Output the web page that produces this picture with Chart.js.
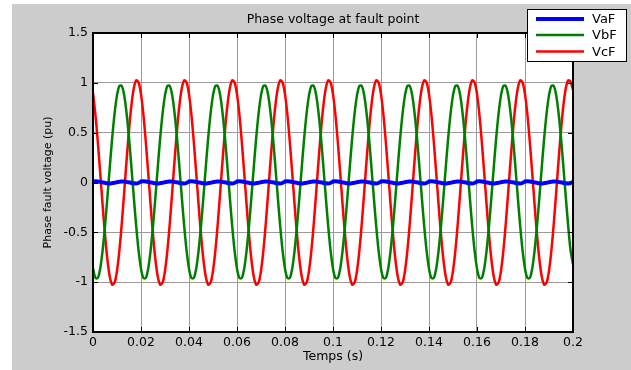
<!DOCTYPE html>
<html>
<head>
<meta charset="utf-8">
<script src="https://cdn.jsdelivr.net/npm/chart.js@4"></script>
<style>
  html, body { margin: 0; padding: 0; background: #fff; }
  #wrap { width: 631px; height: 370px; }
</style>
</head>
<body>
<div id="wrap"><canvas id="faultChart" width="631" height="370"></canvas></div>
<script>
// sample step of the simulation (s)
const sampleStep = 0.001;

// x axis ticks
const xTicks = [0, 0.02, 0.04, 0.06, 0.08, 0.1, 0.12, 0.14, 0.16, 0.18, 0.2];
const yTicks = [-1.5, -1, -0.5, 0, 0.5, 1, 1.5];

const seriesNames = ['VaF', 'VbF', 'VcF'];

// VaF (pu) - almost zero at the fault point
const vaF = [
  0.01, 0.012, 0.01, 0.006, 0.001, -0.004, -0.008, -0.009, -0.006, -0.002, 0.003, 0.008, 0.011, 0.01, 0.006, 0.001, -0.004, -0.008, -0.009, -0.005,
  0.01, 0.012, 0.01, 0.006, 0.001, -0.004, -0.008, -0.009, -0.006, -0.002, 0.003, 0.008, 0.011, 0.01, 0.006, 0.001, -0.004, -0.008, -0.009, -0.005,
  0.01, 0.012, 0.01, 0.006, 0.001, -0.004, -0.008, -0.009, -0.006, -0.002, 0.003, 0.008, 0.011, 0.01, 0.006, 0.001, -0.004, -0.008, -0.009, -0.005,
  0.01, 0.012, 0.01, 0.006, 0.001, -0.004, -0.008, -0.009, -0.006, -0.002, 0.003, 0.008, 0.011, 0.01, 0.006, 0.001, -0.004, -0.008, -0.009, -0.005,
  0.01, 0.012, 0.01, 0.006, 0.001, -0.004, -0.008, -0.009, -0.006, -0.002, 0.003, 0.008, 0.011, 0.01, 0.006, 0.001, -0.004, -0.008, -0.009, -0.005,
  0.01, 0.012, 0.01, 0.006, 0.001, -0.004, -0.008, -0.009, -0.006, -0.002, 0.003, 0.008, 0.011, 0.01, 0.006, 0.001, -0.004, -0.008, -0.009, -0.005,
  0.01, 0.012, 0.01, 0.006, 0.001, -0.004, -0.008, -0.009, -0.006, -0.002, 0.003, 0.008, 0.011, 0.01, 0.006, 0.001, -0.004, -0.008, -0.009, -0.005,
  0.01, 0.012, 0.01, 0.006, 0.001, -0.004, -0.008, -0.009, -0.006, -0.002, 0.003, 0.008, 0.011, 0.01, 0.006, 0.001, -0.004, -0.008, -0.009, -0.005,
  0.01, 0.012, 0.01, 0.006, 0.001, -0.004, -0.008, -0.009, -0.006, -0.002, 0.003, 0.008, 0.011, 0.01, 0.006, 0.001, -0.004, -0.008, -0.009, -0.005,
  0.01, 0.012, 0.01, 0.006, 0.001, -0.004, -0.008, -0.009, -0.006, -0.002, 0.003, 0.008, 0.011, 0.01, 0.006, 0.001, -0.004, -0.008, -0.009, -0.005,
  0.008
];

// VbF (pu)
const vbF = [
  -0.86, -0.958, -0.958, -0.864, -0.684, -0.438, -0.147, 0.157, 0.448, 0.694, 0.874, 0.968, 0.968, 0.874, 0.694, 0.448, 0.157, -0.147, -0.438, -0.684,
  -0.864, -0.958, -0.958, -0.864, -0.684, -0.438, -0.147, 0.157, 0.448, 0.694, 0.874, 0.968, 0.968, 0.874, 0.694, 0.448, 0.157, -0.147, -0.438, -0.684,
  -0.864, -0.958, -0.958, -0.864, -0.684, -0.438, -0.147, 0.157, 0.448, 0.694, 0.874, 0.968, 0.968, 0.874, 0.694, 0.448, 0.157, -0.147, -0.438, -0.684,
  -0.864, -0.958, -0.958, -0.864, -0.684, -0.438, -0.147, 0.157, 0.448, 0.694, 0.874, 0.968, 0.968, 0.874, 0.694, 0.448, 0.157, -0.147, -0.438, -0.684,
  -0.864, -0.958, -0.958, -0.864, -0.684, -0.438, -0.147, 0.157, 0.448, 0.694, 0.874, 0.968, 0.968, 0.874, 0.694, 0.448, 0.157, -0.147, -0.438, -0.684,
  -0.864, -0.958, -0.958, -0.864, -0.684, -0.438, -0.147, 0.157, 0.448, 0.694, 0.874, 0.968, 0.968, 0.874, 0.694, 0.448, 0.157, -0.147, -0.438, -0.684,
  -0.864, -0.958, -0.958, -0.864, -0.684, -0.438, -0.147, 0.157, 0.448, 0.694, 0.874, 0.968, 0.968, 0.874, 0.694, 0.448, 0.157, -0.147, -0.438, -0.684,
  -0.864, -0.958, -0.958, -0.864, -0.684, -0.438, -0.147, 0.157, 0.448, 0.694, 0.874, 0.968, 0.968, 0.874, 0.694, 0.448, 0.157, -0.147, -0.438, -0.684,
  -0.864, -0.958, -0.958, -0.864, -0.684, -0.438, -0.147, 0.157, 0.448, 0.694, 0.874, 0.968, 0.968, 0.874, 0.694, 0.448, 0.157, -0.147, -0.438, -0.684,
  -0.864, -0.958, -0.958, -0.864, -0.684, -0.438, -0.147, 0.157, 0.448, 0.694, 0.874, 0.968, 0.968, 0.874, 0.694, 0.448, 0.157, -0.147, -0.438, -0.684,
  -0.82
];

// VcF (pu)
const vcF = [
  0.9, 0.681, 0.409, 0.097, -0.225, -0.524, -0.773, -0.945, -1.025, -1.005, -0.887, -0.681, -0.409, -0.097, 0.225, 0.524, 0.773, 0.945, 1.025, 1.005,
  0.887, 0.681, 0.409, 0.097, -0.225, -0.524, -0.773, -0.945, -1.025, -1.005, -0.887, -0.681, -0.409, -0.097, 0.225, 0.524, 0.773, 0.945, 1.025, 1.005,
  0.887, 0.681, 0.409, 0.097, -0.225, -0.524, -0.773, -0.945, -1.025, -1.005, -0.887, -0.681, -0.409, -0.097, 0.225, 0.524, 0.773, 0.945, 1.025, 1.005,
  0.887, 0.681, 0.409, 0.097, -0.225, -0.524, -0.773, -0.945, -1.025, -1.005, -0.887, -0.681, -0.409, -0.097, 0.225, 0.524, 0.773, 0.945, 1.025, 1.005,
  0.887, 0.681, 0.409, 0.097, -0.225, -0.524, -0.773, -0.945, -1.025, -1.005, -0.887, -0.681, -0.409, -0.097, 0.225, 0.524, 0.773, 0.945, 1.025, 1.005,
  0.887, 0.681, 0.409, 0.097, -0.225, -0.524, -0.773, -0.945, -1.025, -1.005, -0.887, -0.681, -0.409, -0.097, 0.225, 0.524, 0.773, 0.945, 1.025, 1.005,
  0.887, 0.681, 0.409, 0.097, -0.225, -0.524, -0.773, -0.945, -1.025, -1.005, -0.887, -0.681, -0.409, -0.097, 0.225, 0.524, 0.773, 0.945, 1.025, 1.005,
  0.887, 0.681, 0.409, 0.097, -0.225, -0.524, -0.773, -0.945, -1.025, -1.005, -0.887, -0.681, -0.409, -0.097, 0.225, 0.524, 0.773, 0.945, 1.025, 1.005,
  0.887, 0.681, 0.409, 0.097, -0.225, -0.524, -0.773, -0.945, -1.025, -1.005, -0.887, -0.681, -0.409, -0.097, 0.225, 0.524, 0.773, 0.945, 1.025, 1.005,
  0.887, 0.681, 0.409, 0.097, -0.225, -0.524, -0.773, -0.945, -1.025, -1.005, -0.887, -0.681, -0.409, -0.097, 0.225, 0.524, 0.773, 0.945, 1.025, 1.01,
  0.93
];

const time = vaF.map((_, i) => +(i * sampleStep).toFixed(3));
const toPoints = arr => arr.map((v, i) => ({ x: time[i], y: v }));

const FONT = 'DejaVu Sans';
const colors = ['#0000ff', '#008000', '#ff0000'];
const widths = [4, 2.5, 2.5];

// figure frame, title, axis labels, inner ticks and the boxed legend (matlab look)
const matlabFrame = {
  id: 'matlabFrame',
  beforeDraw(chart) {
    const { ctx, chartArea: a } = chart;
    ctx.save();
    ctx.fillStyle = '#cccccc';
    ctx.fillRect(12, 4, chart.width - 12, chart.height - 4);
    ctx.fillStyle = '#ffffff';
    ctx.fillRect(a.left, a.top, a.right - a.left, a.bottom - a.top);
    ctx.restore();
  },
  afterDraw(chart) {
    const { ctx, chartArea: a, scales } = chart;
    ctx.save();
    ctx.strokeStyle = '#000';
    ctx.lineWidth = 1;
    // inward ticks
    const tl = 5;
    ctx.beginPath();
    xTicks.forEach(t => {
      const x = Math.round(scales.x.getPixelForValue(t)) + 0.5;
      ctx.moveTo(x, a.bottom); ctx.lineTo(x, a.bottom - tl);
      ctx.moveTo(x, a.top); ctx.lineTo(x, a.top + tl);
    });
    yTicks.forEach(t => {
      const y = Math.round(scales.y.getPixelForValue(t)) + 0.5;
      ctx.moveTo(a.left, y); ctx.lineTo(a.left + tl, y);
      ctx.moveTo(a.right, y); ctx.lineTo(a.right - tl, y);
    });
    ctx.stroke();
    // box
    ctx.lineWidth = 2;
    ctx.strokeRect(a.left, a.top, a.right - a.left, a.bottom - a.top);

    // texts
    ctx.fillStyle = '#000';
    ctx.textAlign = 'center';
    ctx.textBaseline = 'middle';
    ctx.font = '12.5px "' + FONT + '"';
    ctx.fillText('Phase voltage at fault point', (a.left + a.right) / 2, 20);
    ctx.fillText('Temps (s)', (a.left + a.right) / 2, 357);
    ctx.save();
    ctx.translate(48, (a.top + a.bottom) / 2);
    ctx.rotate(-Math.PI / 2);
    ctx.font = '11px "' + FONT + '"';
    ctx.fillText('Phase fault voltage (pu)', 0, 0);
    ctx.restore();

    // legend
    ctx.fillStyle = '#fff';
    ctx.fillRect(527.5, 9.5, 99, 52);
    ctx.lineWidth = 1;
    ctx.strokeStyle = '#000';
    ctx.strokeRect(527.5, 9.5, 99, 52);
    const rows = [19, 35, 51.5];
    ctx.textAlign = 'left';
    ctx.font = '13px "' + FONT + '"';
    chart.data.datasets.forEach((ds, i) => {
      ctx.strokeStyle = ds.borderColor;
      ctx.lineWidth = ds.borderWidth;
      ctx.beginPath();
      ctx.moveTo(536, rows[i]);
      ctx.lineTo(584, rows[i]);
      ctx.stroke();
      ctx.fillStyle = '#000';
      ctx.fillText(ds.label, 592, rows[i] + 1);
    });
    ctx.restore();
  }
};

new Chart(document.getElementById('faultChart'), {
  type: 'line',
  data: {
    datasets: [vaF, vbF, vcF].map((arr, i) => ({
      label: seriesNames[i],
      data: toPoints(arr),
      borderColor: colors[i],
      backgroundColor: colors[i],
      borderWidth: widths[i],
      pointRadius: 0,
      tension: 0.3,
      fill: false
    }))
  },
  options: {
    responsive: false,
    animation: false,
    devicePixelRatio: 1,
    layout: { padding: { top: 33, right: 58, bottom: 0, left: 0 } },
    plugins: {
      legend: { display: false },
      title: { display: false },
      tooltip: { enabled: false }
    },
    scales: {
      x: {
        type: 'linear',
        min: 0,
        max: 0.2,
        afterFit: s => { s.height = 38; },
        afterBuildTicks: s => { s.ticks = xTicks.map(v => ({ value: v })); },
        ticks: {
          color: '#000',
          padding: 3,
          maxRotation: 0,
          font: { family: FONT, size: 12.5 },
          callback: v => String(+v.toFixed(2))
        },
        grid: { color: '#9a9a9a', lineWidth: 1, drawTicks: false },
        border: { display: false }
      },
      y: {
        min: -1.5,
        max: 1.5,
        afterFit: s => { s.width = 93; },
        afterBuildTicks: s => { s.ticks = yTicks.map(v => ({ value: v })); },
        ticks: {
          color: '#000',
          padding: 5,
          font: { family: FONT, size: 12.5 },
          callback: v => String(+v.toFixed(1))
        },
        grid: { color: '#9a9a9a', lineWidth: 1, drawTicks: false },
        border: { display: false }
      }
    }
  },
  plugins: [matlabFrame]
});
</script>
</body>
</html>
